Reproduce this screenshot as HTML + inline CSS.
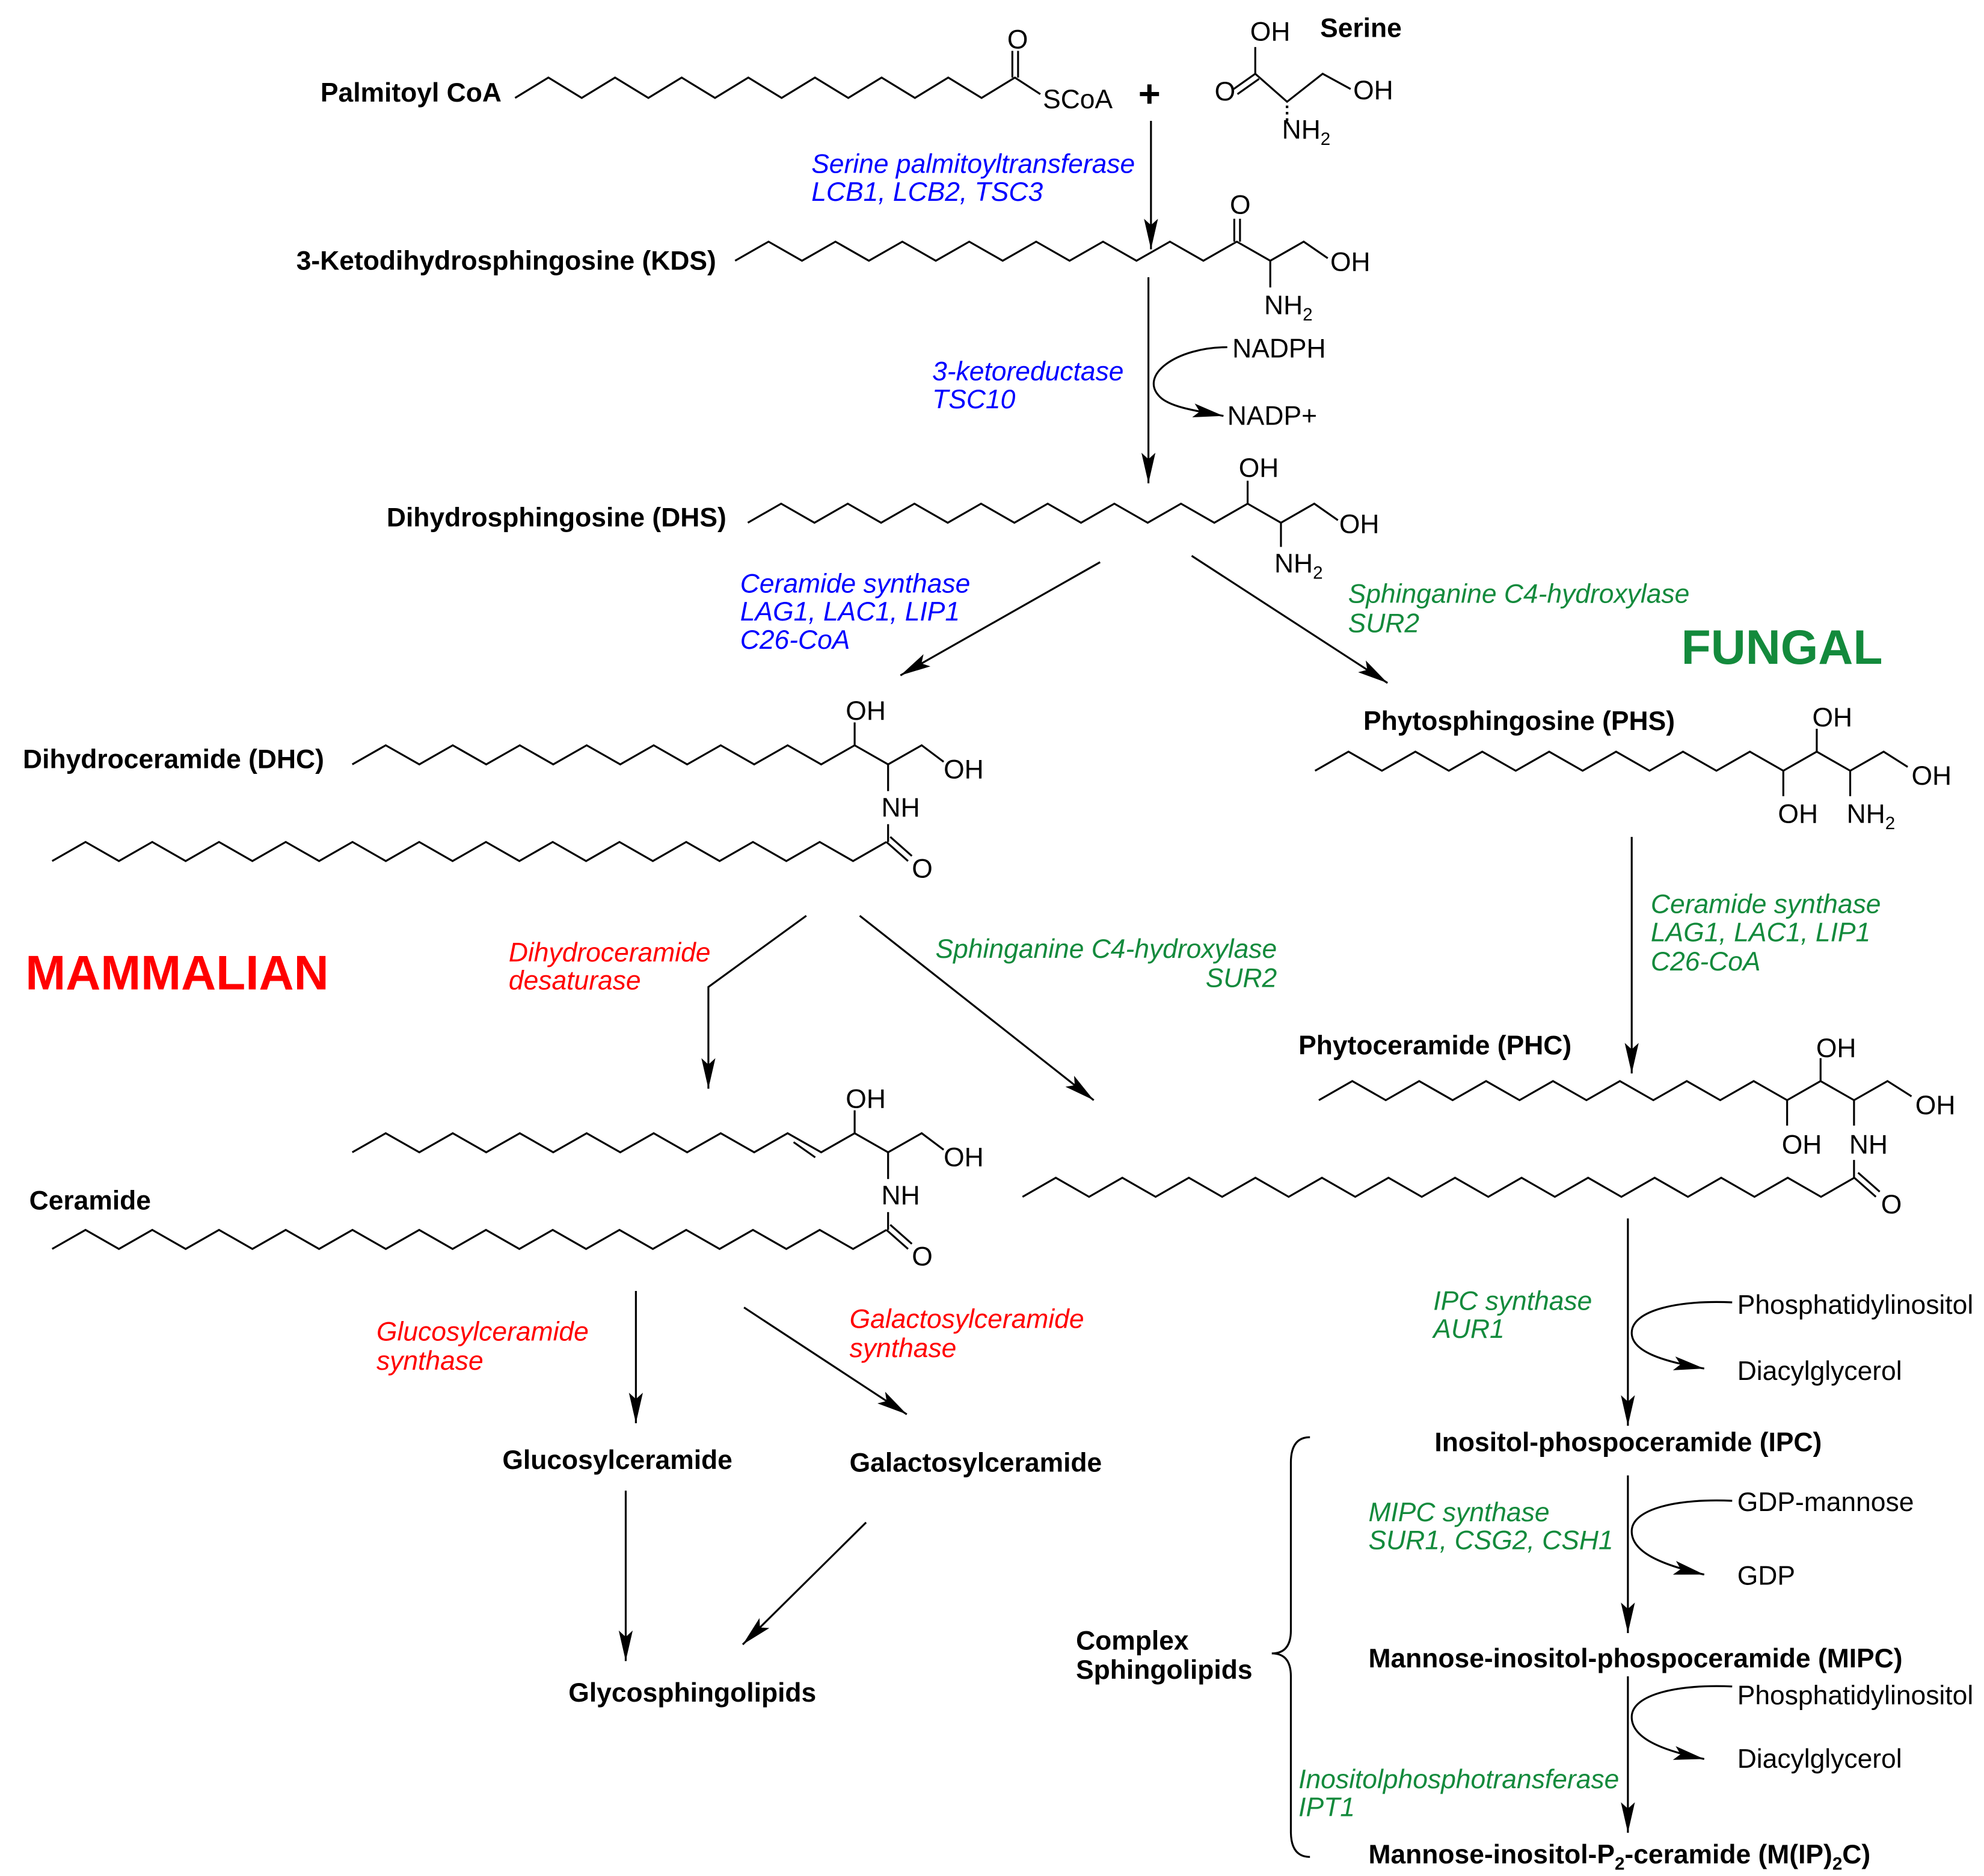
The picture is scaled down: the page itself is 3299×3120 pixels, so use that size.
<!DOCTYPE html>
<html><head><meta charset="utf-8"><style>
html,body{margin:0;padding:0;background:#fff}
svg{display:block}
text{font-family:"Liberation Sans",Arial,sans-serif;font-size:21px}
.b{font-weight:bold}
.i{font-style:italic}
.bl{fill:#0000ff}.rd{fill:#ff0000}.gr{fill:#138a3c}
.ln{fill:none;stroke:#000;stroke-width:1.5}
.s{font-size:14px}
</style></head><body>
<svg width="3299" height="3120" viewBox="0 0 1560 1475" preserveAspectRatio="none" xmlns="http://www.w3.org/2000/svg">
<defs>
<marker id="ar" markerUnits="userSpaceOnUse" markerWidth="30" markerHeight="16" viewBox="-2 -8 30 16" refX="24" refY="0" orient="auto">
<path d="M0,-5.5 L24,0 L0,5.5 L5,0 Z" fill="#000"/>
</marker>
</defs>

<!-- Palmitoyl CoA -->
<text x="252" y="80" class="b">Palmitoyl CoA</text>
<polyline class="ln" points="405,77 431.2,61 457.4,77 483.6,61 509.8,77 536,61 562.2,77 588.4,61 614.6,77 640.8,61 667,77 693.2,61 719.4,77 745.6,61 771.8,77 798,61 818,74"/>
<line class="ln" x1="796" y1="61" x2="796" y2="40"/><line class="ln" x1="800.5" y1="61" x2="800.5" y2="40"/>
<text x="792" y="38">O</text>
<text x="820" y="85">SCoA</text>
<text x="895" y="84" class="b" style="font-size:30px">+</text>

<!-- Serine -->
<text x="1038" y="29" class="b">Serine</text>
<text x="983" y="32">OH</text>
<line class="ln" x1="987" y1="37" x2="987" y2="58"/>
<polyline class="ln" points="987,58 1012,80 1040,58 1062,70"/>
<line class="ln" x1="987" y1="58" x2="970" y2="70"/><line class="ln" x1="990" y1="62" x2="973" y2="74"/>
<text x="955" y="79">O</text>
<line x1="1012" y1="83" x2="1012" y2="97" stroke="#000" stroke-width="2" stroke-dasharray="2,3"/>
<text x="1064" y="78">OH</text>
<text x="1008" y="109">NH<tspan dy="5" class="s">2</tspan></text>

<!-- arrow 1 -->
<line class="ln" x1="905" y1="95" x2="905" y2="196" marker-end="url(#ar)"/>
<text x="638" y="136" class="i bl">Serine palmitoyltransferase</text>
<text x="638" y="158" class="i bl">LCB1, LCB2, TSC3</text>

<!-- KDS -->
<text x="233" y="212" class="b">3-Ketodihydrosphingosine (KDS)</text>
<polyline class="ln" points="578,205 604.3,190 630.6,205 656.9,190 683.2,205 709.5,190 735.8,205 762.1,190 788.4,205 814.7,190 841,205 867.3,190 893.6,205 919.9,190 946.2,205 972.5,190 998.8,205 1025.1,190 1044,203"/>
<line class="ln" x1="970.5" y1="190" x2="970.5" y2="172"/><line class="ln" x1="975" y1="190" x2="975" y2="172"/>
<text x="967" y="168">O</text>
<line class="ln" x1="998.8" y1="205" x2="998.8" y2="226"/>
<text x="994" y="247">NH<tspan dy="5" class="s">2</tspan></text>
<text x="1046" y="213">OH</text>

<!-- arrow 2 -->
<line class="ln" x1="903" y1="218" x2="903" y2="380" marker-end="url(#ar)"/>
<path class="ln" d="M965,273 C925,273 895,295 912,312 C920,320 940,323 962,327" marker-end="url(#ar)"/>
<text x="969" y="281">NADPH</text>
<text x="965" y="334">NADP+</text>
<text x="733" y="299" class="i bl">3-ketoreductase</text>
<text x="733" y="321" class="i bl">TSC10</text>

<!-- DHS -->
<text x="304" y="414" class="b">Dihydrosphingosine (DHS)</text>
<polyline class="ln" points="588,411 614.2,396 640.4,411 666.6,396 692.8,411 719,396 745.2,411 771.4,396 797.6,411 823.8,396 850,411 876.2,396 902.4,411 928.6,396 954.8,411 981,396 1007.2,411 1033.4,396 1052,409"/>
<line class="ln" x1="981" y1="396" x2="981" y2="378"/>
<text x="974" y="375">OH</text>
<line class="ln" x1="1007.2" y1="411" x2="1007.2" y2="430"/>
<text x="1002" y="450">NH<tspan dy="5" class="s">2</tspan></text>
<text x="1053" y="419">OH</text>

<!-- branches from DHS -->
<line class="ln" x1="865" y1="442" x2="708" y2="531" marker-end="url(#ar)"/>
<line class="ln" x1="937" y1="437" x2="1091" y2="537" marker-end="url(#ar)"/>
<text x="582" y="466" class="i bl">Ceramide synthase</text>
<text x="582" y="488" class="i bl">LAG1, LAC1, LIP1</text>
<text x="582" y="510" class="i bl">C26-CoA</text>
<text x="1060" y="474" class="i gr">Sphinganine C4-hydroxylase</text>
<text x="1060" y="497" class="i gr">SUR2</text>
<text x="1322" y="522" class="b gr" style="font-size:38px">FUNGAL</text>

<!-- PHS -->
<text x="1072" y="574" class="b">Phytosphingosine (PHS)</text>
<polyline class="ln" points="1034,606 1060.3,591 1086.6,606 1112.9,591 1139.2,606 1165.5,591 1191.8,606 1218.1,591 1244.4,606 1270.7,591 1297,606 1323.3,591 1349.6,606 1375.9,591 1402.2,606 1428.5,591 1454.8,606 1481.1,591 1500,603"/>
<line class="ln" x1="1402.2" y1="606" x2="1402.2" y2="626"/>
<text x="1398" y="647">OH</text>
<line class="ln" x1="1428.5" y1="591" x2="1428.5" y2="573"/>
<text x="1425" y="571">OH</text>
<line class="ln" x1="1454.8" y1="606" x2="1454.8" y2="626"/>
<text x="1452" y="647">NH<tspan dy="5" class="s">2</tspan></text>
<text x="1503" y="617">OH</text>

<!-- PHS -> PHC -->
<line class="ln" x1="1283" y1="658" x2="1283" y2="844" marker-end="url(#ar)"/>
<text x="1298" y="718" class="i gr">Ceramide synthase</text>
<text x="1298" y="740" class="i gr">LAG1, LAC1, LIP1</text>
<text x="1298" y="763" class="i gr">C26-CoA</text>

<!-- DHC -->
<text x="18" y="604" class="b">Dihydroceramide (DHC)</text>
<g id="cer">
<polyline class="ln" points="277,601 303.3,586 329.7,601 356,586 382.3,601 408.7,586 435,601 461.3,586 487.7,601 514,586 540.3,601 566.7,586 593,601 619.3,586 645.7,601 672,586 698.3,601 724.7,586 742,599"/>
<line class="ln" x1="672" y1="586" x2="672" y2="568"/>
<text x="665" y="566">OH</text>
<text x="742" y="612">OH</text>
<line class="ln" x1="698.3" y1="601" x2="698.3" y2="622"/>
<text x="693" y="642">NH</text>
<line class="ln" x1="698.3" y1="648" x2="698.3" y2="662"/>
<polyline class="ln" points="41,677 67.24,662 93.48,677 119.72,662 145.96,677 172.2,662 198.44,677 224.68,662 250.92,677 277.16,662 303.4,677 329.64,662 355.88,677 382.12,662 408.36,677 434.6,662 460.84,677 487.08,662 513.32,677 539.56,662 565.8,677 592.04,662 618.28,677 644.52,662 670.76,677 697,662"/>
<line class="ln" x1="697" y1="662" x2="714" y2="677"/><line class="ln" x1="700" y1="658" x2="717" y2="673"/>
<text x="717" y="690">O</text>
</g>

<text x="20" y="778" class="b rd" style="font-size:38px">MAMMALIAN</text>

<!-- DHC arrows -->
<polyline class="ln" points="634,720 557,776 557,856" marker-end="url(#ar)"/>
<line class="ln" x1="676" y1="720" x2="860" y2="865" marker-end="url(#ar)"/>
<text x="400" y="756" class="i rd">Dihydroceramide</text>
<text x="400" y="778" class="i rd">desaturase</text>
<text x="1004" y="753" class="i gr" text-anchor="end">Sphinganine C4-hydroxylase</text>
<text x="1004" y="776" class="i gr" text-anchor="end">SUR2</text>

<!-- Ceramide -->
<text x="23" y="951" class="b">Ceramide</text>
<use href="#cer" transform="translate(0,305)"/>
<line class="ln" x1="624" y1="898" x2="641" y2="910"/>

<!-- PHC -->
<text x="1021" y="829" class="b">Phytoceramide (PHC)</text>
<polyline class="ln" transform="translate(3,259)" points="1034,606 1060.3,591 1086.6,606 1112.9,591 1139.2,606 1165.5,591 1191.8,606 1218.1,591 1244.4,606 1270.7,591 1297,606 1323.3,591 1349.6,606 1375.9,591 1402.2,606 1428.5,591 1454.8,606 1481.1,591 1500,603"/>
<line class="ln" x1="1405.2" y1="865" x2="1405.2" y2="885"/>
<text x="1401" y="907">OH</text>
<line class="ln" x1="1431.5" y1="850" x2="1431.5" y2="832"/>
<text x="1428" y="831">OH</text>
<line class="ln" x1="1457.8" y1="865" x2="1457.8" y2="885"/>
<text x="1454" y="907">NH</text>
<line class="ln" x1="1457.8" y1="912" x2="1457.8" y2="926"/>
<text x="1506" y="876">OH</text>
<polyline class="ln" points="804,941 830.16,926 856.32,941 882.48,926 908.64,941 934.8,926 960.96,941 987.12,926 1013.28,941 1039.44,926 1065.6,941 1091.76,926 1117.92,941 1144.08,926 1170.24,941 1196.4,926 1222.56,941 1248.72,926 1274.88,941 1301.04,926 1327.2,941 1353.36,926 1379.52,941 1405.68,926 1431.84,941 1458,926"/>
<line class="ln" x1="1458" y1="926" x2="1475" y2="941"/><line class="ln" x1="1461" y1="922" x2="1478" y2="937"/>
<text x="1479" y="954">O</text>

<!-- Ceramide products -->
<line class="ln" x1="500" y1="1015" x2="500" y2="1119" marker-end="url(#ar)"/>
<line class="ln" x1="585" y1="1028" x2="713" y2="1112" marker-end="url(#ar)"/>
<text x="296" y="1054" class="i rd">Glucosylceramide</text>
<text x="296" y="1077" class="i rd">synthase</text>
<text x="668" y="1044" class="i rd">Galactosylceramide</text>
<text x="668" y="1067" class="i rd">synthase</text>
<text x="395" y="1155" class="b">Glucosylceramide</text>
<text x="668" y="1157" class="b">Galactosylceramide</text>
<line class="ln" x1="492" y1="1172" x2="492" y2="1306" marker-end="url(#ar)"/>
<line class="ln" x1="681" y1="1197" x2="584" y2="1293" marker-end="url(#ar)"/>
<text x="447" y="1338" class="b">Glycosphingolipids</text>

<!-- Fungal complex -->
<line class="ln" x1="1280" y1="958" x2="1280" y2="1121" marker-end="url(#ar)"/>
<path class="ln" d="M1362,1024 C1320,1022 1283,1030 1283,1048 C1283,1062 1305,1070 1340,1076" marker-end="url(#ar)"/>
<text x="1366" y="1033">Phosphatidylinositol</text>
<text x="1366" y="1085">Diacylglycerol</text>
<text x="1127" y="1030" class="i gr">IPC synthase</text>
<text x="1127" y="1052" class="i gr">AUR1</text>
<text x="1128" y="1141" class="b">Inositol-phospoceramide (IPC)</text>

<line class="ln" x1="1280" y1="1160" x2="1280" y2="1284" marker-end="url(#ar)"/>
<path class="ln" d="M1362,1180 C1320,1178 1283,1186 1283,1204 C1283,1220 1305,1230 1340,1238" marker-end="url(#ar)"/>
<text x="1366" y="1188">GDP-mannose</text>
<text x="1366" y="1246">GDP</text>
<text x="1076" y="1196" class="i gr">MIPC synthase</text>
<text x="1076" y="1218" class="i gr">SUR1, CSG2, CSH1</text>
<text x="1076" y="1311" class="b">Mannose-inositol-phospoceramide (MIPC)</text>

<line class="ln" x1="1280" y1="1318" x2="1280" y2="1441" marker-end="url(#ar)"/>
<path class="ln" d="M1362,1326 C1320,1324 1283,1332 1283,1350 C1283,1366 1305,1376 1340,1383" marker-end="url(#ar)"/>
<text x="1366" y="1340">Phosphatidylinositol</text>
<text x="1366" y="1390">Diacylglycerol</text>
<text x="1021" y="1406" class="i gr">Inositolphosphotransferase</text>
<text x="1021" y="1428" class="i gr">IPT1</text>
<text x="1076" y="1465" class="b">Mannose-inositol-P<tspan dy="5" class="s">2</tspan><tspan dy="-5">-ceramide (M(IP)</tspan><tspan dy="5" class="s">2</tspan><tspan dy="-5">C)</tspan></text>

<path class="ln" d="M1030,1130 Q1015,1130 1015,1150 L1015,1282 Q1015,1300 1000,1300 Q1015,1300 1015,1318 L1015,1440 Q1015,1460 1030,1460"/>
<text x="846" y="1297" class="b">Complex</text>
<text x="846" y="1320" class="b">Sphingolipids</text>
</svg>
</body></html>
